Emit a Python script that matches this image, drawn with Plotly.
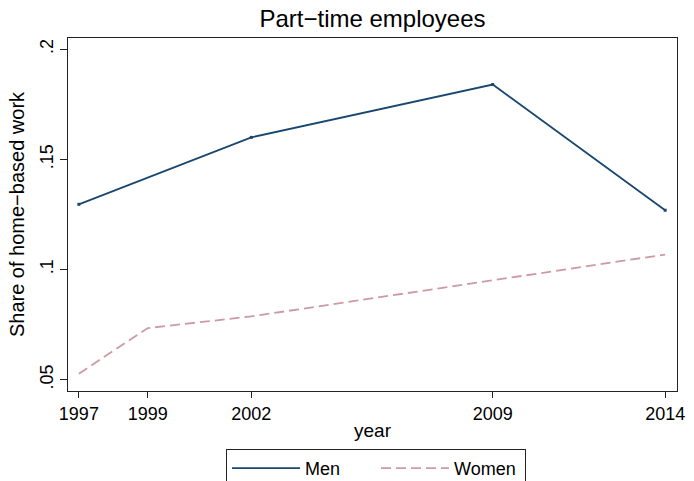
import plotly.graph_objects as go

# Data
men_years = [1997, 2002, 2009, 2014]
men_share = [0.1296, 0.1600, 0.1840, 0.1269]
women_years = [1997, 1999, 2002, 2009, 2014]
women_share = [0.0527, 0.0734, 0.0787, 0.0949, 0.1068]

x_ticks = [1997, 1999, 2002, 2009, 2014]
y_ticks = [0.05, 0.10, 0.15, 0.20]
y_tick_text = [".05", ".1", ".15", ".2"]

FONT = "Liberation Sans, Arial, sans-serif"
MEN_COLOR = "#1a476f"
WOMEN_COLOR = "#cc9aa2"

fig = go.Figure()
fig.add_trace(go.Scatter(
    x=men_years, y=men_share, name="Men", mode="lines",
    line=dict(color=MEN_COLOR, width=1.8),
))
fig.add_trace(go.Scatter(
    x=women_years, y=women_share, name="Women", mode="lines",
    line=dict(color=WOMEN_COLOR, width=1.8, dash="10px,5px"),
))
# small vertex dots (not in legend)
fig.add_trace(go.Scatter(
    x=men_years, y=men_share, mode="markers", showlegend=False, hoverinfo="skip",
    marker=dict(color=MEN_COLOR, size=3, symbol="square"),
))

fig.update_layout(
    width=694, height=481,
    margin=dict(l=68, r=9, t=38, b=90),
    paper_bgcolor="white", plot_bgcolor="white",
    font=dict(family=FONT, color="black", size=18),
    title=dict(text="Part\u2212time employees", x=0.5, xref="paper", xanchor="center",
               y=1 - 19 / 481, yanchor="middle",
               font=dict(family=FONT, size=24, color="black")),
    showlegend=True,
    legend=dict(
        orientation="h", xref="container", yref="container",
        x=226 / 694, xanchor="left", y=1 - 449 / 481, yanchor="top",
        bordercolor="#222222", borderwidth=1, bgcolor="white",
        font=dict(family=FONT, size=18, color="black"),
        itemwidth=68, entrywidth=66, entrywidthmode="pixels", tracegroupgap=0,
        itemclick=False,
    ),
)

fig.update_xaxes(
    range=[1996.685, 2014.343], tickmode="array", tickvals=x_ticks,
    ticktext=[str(t) for t in x_ticks],
    ticks="outside", ticklen=6, tickwidth=1.2, tickcolor="#222222",
    showline=True, linecolor="#222222", linewidth=1.3, mirror=True,
    showgrid=False, zeroline=False,
    tickfont=dict(family=FONT, size=18, color="black"),
    title=dict(text="year", font=dict(family=FONT, size=19, color="black"), standoff=0),
)
fig.update_yaxes(
    range=[0.04482, 0.20513], tickmode="array", tickvals=y_ticks, ticktext=y_tick_text,
    ticks="outside", ticklen=7, tickwidth=1.2, tickcolor="#222222", tickangle=-90,
    showline=True, linecolor="#222222", linewidth=1.3, mirror=True,
    showgrid=False, zeroline=False,
    tickfont=dict(family=FONT, size=18, color="black"),
    title=dict(text="Share of home\u2212based work", font=dict(family=FONT, size=20, color="black"), standoff=6),
)

fig.write_html("out.html")
